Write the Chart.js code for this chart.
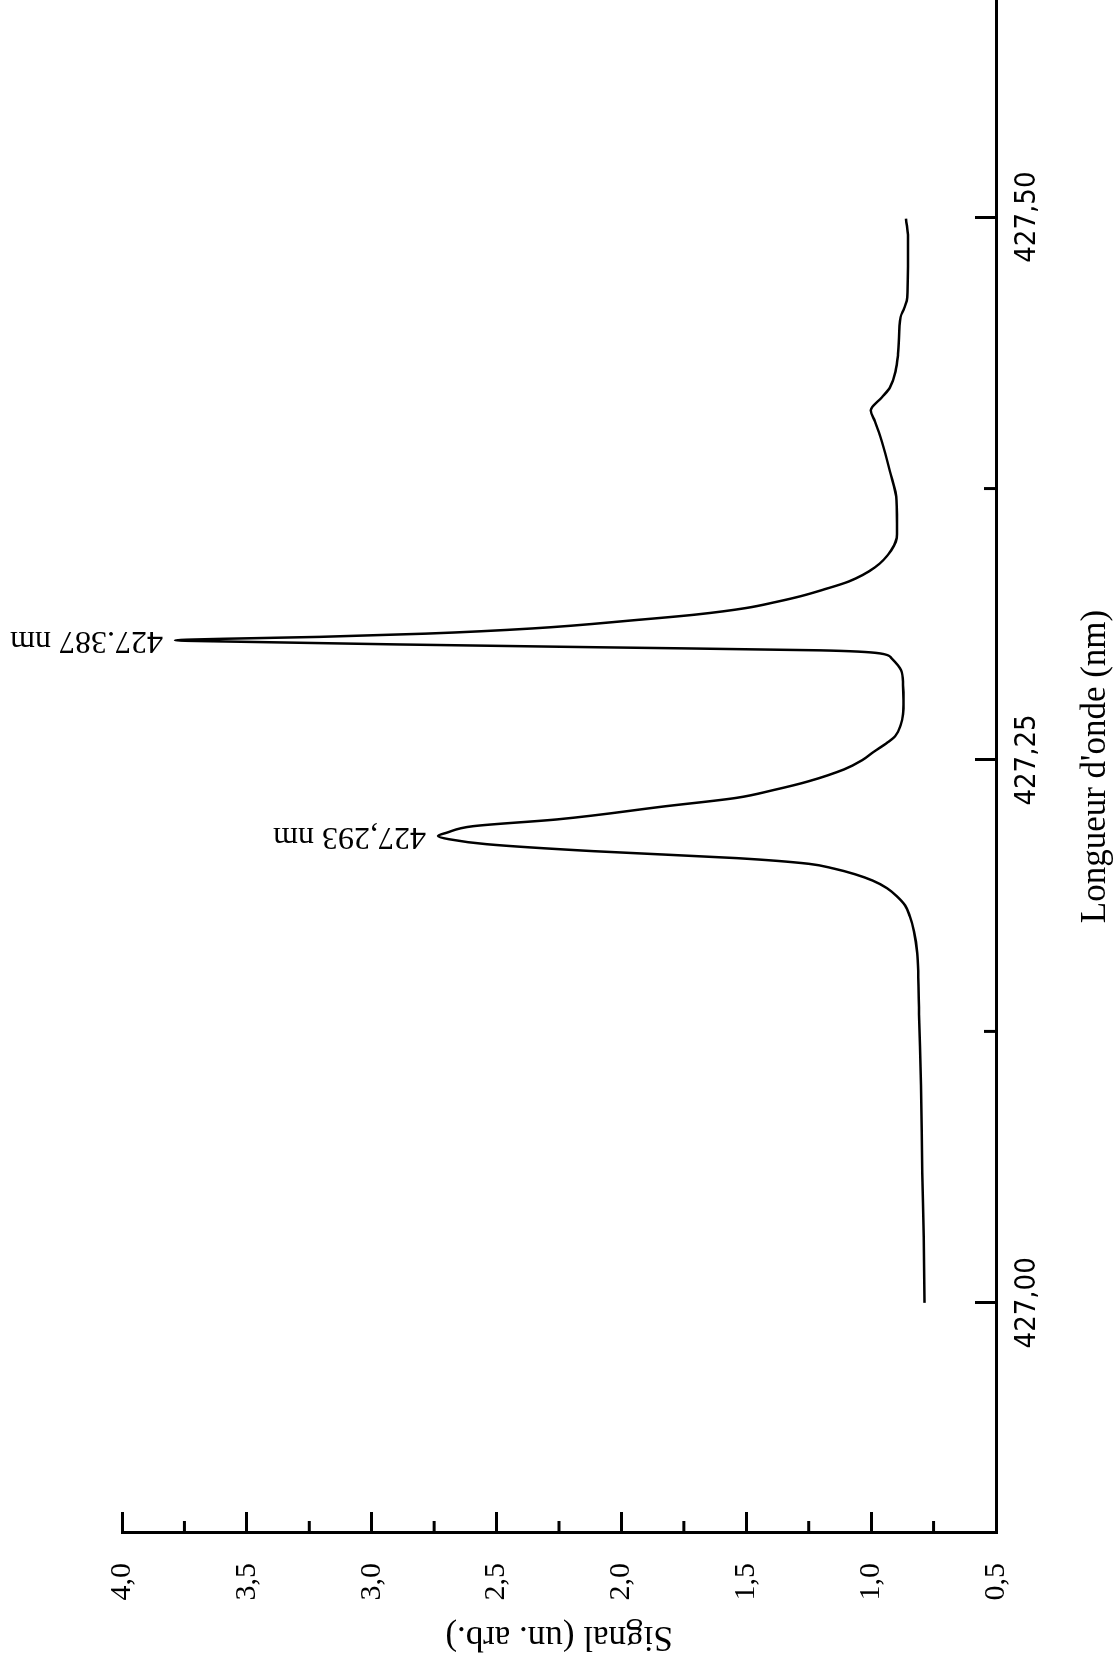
<!DOCTYPE html>
<html>
<head>
<meta charset="utf-8">
<script src="https://cdn.jsdelivr.net/npm/chart.js@4.4.1/dist/chart.umd.min.js"></script>
<style>
    html, body { margin: 0; padding: 0; background: #fff; }
    #page { position: relative; width: 1115px; height: 1672px; overflow: hidden; background: #fff; }
    /* the plot is drawn landscape and turned a quarter turn, like the scanned page */
    #spectrum { position: absolute; left: 0; top: 0; transform-origin: 0 0; transform: translateY(1672px) rotate(-90deg); }
</style>
</head>
<body>
<div id="page"><canvas id="spectrum" width="1672" height="1115"></canvas></div>
<script>
var wavelengths = [
    427.000, 427.030, 427.060, 427.100, 427.133, 427.150, 427.161, 427.171, 427.178, 427.183,
    427.187, 427.191, 427.1945, 427.1974, 427.2000, 427.2022, 427.2048, 427.2080, 427.2112, 427.2135,
    427.2150, 427.2165, 427.2195, 427.2227, 427.2287, 427.2326, 427.2361, 427.2402, 427.2457, 427.2499,
    427.2538, 427.2580, 427.2611, 427.2660, 427.2710, 427.2775, 427.2845, 427.2913, 427.2968, 427.2991,
    427.3005, 427.3019, 427.3032, 427.3045, 427.3051, 427.3058, 427.3067, 427.3082, 427.3106, 427.3146,
    427.3170, 427.3200, 427.3228, 427.3255, 427.3285, 427.3322, 427.3387, 427.3465, 427.3540, 427.3695,
    427.3830, 427.3970, 427.4060, 427.4110, 427.4170, 427.4215, 427.4370, 427.4540, 427.4580, 427.4630,
    427.4890, 427.4993
];
var signals = [
    0.786, 0.789, 0.795, 0.800, 0.808, 0.811, 0.815, 0.828, 0.845, 0.864,
    0.895, 0.937, 0.995, 1.065, 1.150, 1.250, 1.537, 2.110, 2.538, 2.690,
    2.735, 2.700, 2.595, 2.252, 1.823, 1.537, 1.393, 1.250, 1.108, 1.036,
    0.989, 0.935, 0.903, 0.882, 0.872, 0.870, 0.872, 0.880, 0.918, 0.965,
    1.205, 2.086, 2.887, 3.550, 3.788, 3.600, 3.208, 2.781, 2.354, 1.927,
    1.700, 1.500, 1.380, 1.280, 1.190, 1.090, 0.985, 0.920, 0.896, 0.898,
    0.925, 0.958, 0.985, 1.002, 0.957, 0.925, 0.892, 0.882, 0.868, 0.855,
    0.852, 0.860
];

var wavelengthTicks = [427.00, 427.25, 427.50];
var wavelengthMinorTicks = [427.125, 427.375];
var signalTicks = [0.5, 1.0, 1.5, 2.0, 2.5, 3.0, 3.5, 4.0];
var signalMinorTicks = [0.75, 1.25, 1.75, 2.25, 2.75, 3.25, 3.75];

var peakWavelengths = [427.2150, 427.3051];
var peakSignals = [2.735, 3.788];
var peakLabels = ["427,293 nm", "427.387 nm"];

var serif = "'Liberation Serif', 'Times New Roman', serif";
var narrow = "'Liberation Sans Narrow', 'Arial Narrow', 'DejaVu Sans Condensed', sans-serif";

var points = wavelengths.map(function (w, i) {
    return { x: w, y: signals[i] };
});

// short minor ticks and the peak labels
var extras = {
    id: "extras",
    afterDraw: function (chart) {
        var ctx = chart.ctx;
        var area = chart.chartArea;
        var xs = chart.scales.x;
        var ys = chart.scales.y;
        ctx.save();
        ctx.strokeStyle = "#000";
        ctx.lineWidth = 3;
        wavelengthMinorTicks.forEach(function (v) {
            var px = xs.getPixelForValue(v);
            ctx.beginPath();
            ctx.moveTo(px, area.bottom);
            ctx.lineTo(px, area.bottom - 12);
            ctx.stroke();
        });
        signalMinorTicks.forEach(function (v) {
            var py = ys.getPixelForValue(v);
            ctx.beginPath();
            ctx.moveTo(area.left, py);
            ctx.lineTo(area.left + 12, py);
            ctx.stroke();
        });
        ctx.fillStyle = "#000";
        ctx.font = "32px " + serif;
        ctx.textAlign = "left";
        ctx.textBaseline = "middle";
        peakLabels.forEach(function (t, i) {
            var px = xs.getPixelForValue(peakWavelengths[i]);
            var py = ys.getPixelForValue(peakSignals[i]);
            ctx.save();
            ctx.translate(px, py - 12);
            ctx.rotate(-Math.PI / 2);
            ctx.fillText(t, 0, 0);
            ctx.restore();
        });
        ctx.restore();
    }
};

var ctx = document.getElementById("spectrum").getContext("2d");
var myChart = new Chart(ctx, {
    type: "line",
    data: {
        datasets: [
            {
                data: points,
                borderColor: "#000",
                borderWidth: 2.5,
                pointRadius: 0,
                fill: false,
                cubicInterpolationMode: "monotone"
            }
        ]
    },
    options: {
        responsive: false,
        maintainAspectRatio: false,
        animation: false,
        devicePixelRatio: 1,
        layout: { padding: { top: 122, right: 0, bottom: 0, left: 0 } },
        plugins: {
            legend: { display: false },
            tooltip: { enabled: false }
        },
        scales: {
            x: {
                type: "linear",
                position: "bottom",
                min: 426.894,
                max: 427.6,
                afterBuildTicks: function (scale) {
                    scale.ticks = wavelengthTicks.map(function (v) { return { value: v }; });
                },
                afterFit: function (scale) { scale.height = 119; },
                border: { display: true, color: "#000", width: 3 },
                grid: { drawOnChartArea: false, drawTicks: true, tickLength: -21, tickWidth: 3, tickColor: "#000" },
                ticks: {
                    color: "#000",
                    padding: 35,
                    maxRotation: 0,
                    font: { family: narrow, size: 29 },
                    callback: function (v) { return Number(v).toFixed(2).replace(".", ","); }
                },
                title: {
                    display: true,
                    text: "Longueur d'onde (nm)",
                    color: "#000",
                    font: { family: serif, size: 35, lineHeight: 1 },
                    padding: { top: 0, bottom: 2 }
                }
            },
            y: {
                type: "linear",
                position: "left",
                min: 0.5,
                max: 4.0,
                afterBuildTicks: function (scale) {
                    scale.ticks = signalTicks.map(function (v) { return { value: v }; });
                },
                afterFit: function (scale) { scale.width = 139; },
                border: { display: true, color: "#000", width: 3 },
                grid: { drawOnChartArea: false, drawTicks: true, tickLength: -21, tickWidth: 3, tickColor: "#000" },
                ticks: {
                    color: "#000",
                    padding: 51,
                    font: { family: serif, size: 30 },
                    callback: function (v) { return Number(v).toFixed(1).replace(".", ","); }
                },
                title: {
                    display: true,
                    text: "Signal (un. arb.)",
                    color: "#000",
                    font: { family: serif, size: 35, lineHeight: 1 },
                    padding: { top: 18, bottom: 0 }
                }
            }
        }
    },
    plugins: [extras]
});
</script>
</body>
</html>
